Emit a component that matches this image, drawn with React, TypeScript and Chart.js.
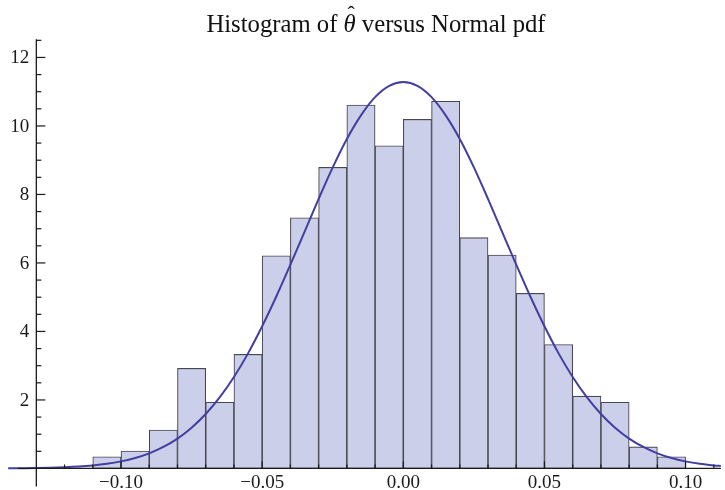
import React, { useEffect, useRef } from "react";
import { Chart, registerables } from "chart.js";

Chart.register(...registerables);

// Histogram bins (width 0.01), centers and densities
const binCenters = [
  -0.105, -0.095, -0.085, -0.075, -0.065, -0.055, -0.045, -0.035, -0.025, -0.015, -0.005,
  0.005, 0.015, 0.025, 0.035, 0.045, 0.055, 0.065, 0.075, 0.085, 0.095,
];
const binDensities = [
  0.34, 0.51, 1.12, 2.92, 1.93, 3.33, 6.21, 7.32, 8.79, 10.61, 9.42,
  10.19, 10.72, 6.74, 6.23, 5.11, 3.62, 2.11, 1.93, 0.63, 0.34,
];

// Normal pdf curve
const pdfX = [
  -0.14, -0.135, -0.13, -0.125, -0.12, -0.115, -0.11, -0.105, -0.1, -0.095, -0.09, -0.085,
  -0.08, -0.075, -0.07, -0.065, -0.06, -0.055, -0.05, -0.045, -0.04, -0.035, -0.03, -0.025,
  -0.02, -0.015, -0.01, -0.005, 0, 0.005, 0.01, 0.015, 0.02, 0.025, 0.03, 0.035, 0.04,
  0.045, 0.05, 0.055, 0.06, 0.065, 0.07, 0.075, 0.08, 0.085, 0.09, 0.095, 0.1, 0.105, 0.11,
  0.1125,
];
const pdfY = [
  0.004, 0.008, 0.013, 0.022, 0.036, 0.057, 0.089, 0.137, 0.207, 0.305, 0.442, 0.627,
  0.872, 1.19, 1.59, 2.08, 2.67, 3.36, 4.15, 5.02, 5.95, 6.91, 7.87, 8.79,
  9.62, 10.31, 10.84, 11.17, 11.28, 11.17, 10.84, 10.31, 9.62, 8.79, 7.87, 6.91, 5.95,
  5.02, 4.15, 3.36, 2.67, 2.08, 1.59, 1.19, 0.872, 0.627, 0.442, 0.305, 0.207, 0.137, 0.089,
  0.071,
];

// Axis ticks
const xMajorTicks = [-0.1, -0.05, 0, 0.05, 0.1];
const xTickLabels = ["\u22120.10", "\u22120.05", "0.00", "0.05", "0.10"];
const xMinorTicks = [
  -0.12, -0.11, -0.09, -0.08, -0.07, -0.06, -0.04, -0.03, -0.02, -0.01,
  0.01, 0.02, 0.03, 0.04, 0.06, 0.07, 0.08, 0.09, 0.11,
];
const yMajorTicks = [2, 4, 6, 8, 10, 12];
const yTickLabels = ["2", "4", "6", "8", "10", "12"];
const yMinorTicks = [0.5, 1, 1.5, 2.5, 3, 3.5, 4.5, 5, 5.5, 6.5, 7, 7.5, 8.5, 9, 9.5, 10.5, 11, 11.5, 12.5];

const titleBefore = "Histogram of ";
const titleSymbol = "\u03B8";
const titleHat = "\u02C6";
const titleAfter = " versus Normal pdf";

const X_MIN = -0.14;
const X_MAX = 0.1125;
const Y_MIN = -0.53;
const Y_MAX = 12.53;
const Y_AXIS_AT = -0.13;
const X_AXIS_AT = 0;
const X_AXIS_START = -0.1365;

const SERIF = "'Liberation Serif', 'DejaVu Serif', serif";

const axesPlugin = {
  id: "mathAxes",
  afterDraw(chart: any) {
    const ctx = chart.ctx as CanvasRenderingContext2D;
    const xs = chart.scales.x;
    const ys = chart.scales.y;
    const area = chart.chartArea;
    const ax = xs.getPixelForValue(Y_AXIS_AT);
    const ay = ys.getPixelForValue(X_AXIS_AT);
    ctx.save();
    ctx.strokeStyle = "#1a1a1a";
    ctx.lineWidth = 1.3;
    // x axis
    ctx.beginPath();
    ctx.moveTo(xs.getPixelForValue(X_AXIS_START), ay);
    ctx.lineTo(area.right, ay);
    ctx.stroke();
    // y axis
    ctx.beginPath();
    ctx.moveTo(ax, area.top);
    ctx.lineTo(ax, area.bottom);
    ctx.stroke();
    // x ticks (upward)
    ctx.lineWidth = 1.2;
    xMajorTicks.forEach((v) => {
      const p = xs.getPixelForValue(v);
      ctx.beginPath();
      ctx.moveTo(p, ay);
      ctx.lineTo(p, ay - 7);
      ctx.stroke();
    });
    xMinorTicks.forEach((v) => {
      const p = xs.getPixelForValue(v);
      ctx.beginPath();
      ctx.moveTo(p, ay);
      ctx.lineTo(p, ay - 4);
      ctx.stroke();
    });
    // y ticks (rightward)
    yMajorTicks.forEach((v) => {
      const p = ys.getPixelForValue(v);
      ctx.beginPath();
      ctx.moveTo(ax, p);
      ctx.lineTo(ax + 9, p);
      ctx.stroke();
    });
    yMinorTicks.forEach((v) => {
      const p = ys.getPixelForValue(v);
      ctx.beginPath();
      ctx.moveTo(ax, p);
      ctx.lineTo(ax + 5, p);
      ctx.stroke();
    });
    // tick labels
    ctx.fillStyle = "#1a1a1a";
    ctx.font = `19px ${SERIF}`;
    ctx.textAlign = "center";
    ctx.textBaseline = "alphabetic";
    xMajorTicks.forEach((v, i) => {
      ctx.fillText(xTickLabels[i], xs.getPixelForValue(v), 488);
    });
    ctx.textAlign = "right";
    ctx.textBaseline = "middle";
    yMajorTicks.forEach((v, i) => {
      ctx.fillText(yTickLabels[i], ax - 7, ys.getPixelForValue(v) + 1);
    });
    // title
    ctx.fillStyle = "#111";
    ctx.textBaseline = "alphabetic";
    ctx.textAlign = "left";
    const normalFont = `24.7px ${SERIF}`;
    const italicFont = `italic 24.7px ${SERIF}`;
    ctx.font = normalFont;
    const w1 = ctx.measureText(titleBefore).width;
    const w3 = ctx.measureText(titleAfter).width;
    ctx.font = italicFont;
    const w2 = ctx.measureText(titleSymbol).width;
    const total = w1 + w2 + w3;
    let x = 376 - total / 2;
    const by = 32;
    ctx.font = normalFont;
    ctx.fillText(titleBefore, x, by);
    x += w1;
    ctx.font = italicFont;
    ctx.fillText(titleSymbol, x, by);
    ctx.font = `22px ${SERIF}`;
    ctx.textAlign = "center";
    ctx.fillText(titleHat, x + w2 * 0.62, by - 11);
    ctx.textAlign = "left";
    x += w2;
    ctx.font = normalFont;
    ctx.fillText(titleAfter, x, by);
    ctx.restore();
  },
};

export default function App() {
  const ref = useRef<HTMLCanvasElement | null>(null);
  useEffect(() => {
    if (!ref.current) return;
    const chart = new Chart(ref.current, {
      type: "bar",
      data: {
        datasets: [
          {
            type: "line",
            data: pdfX.map((x, i) => ({ x, y: pdfY[i] })),
            borderColor: "rgb(66,62,162)",
            borderWidth: 2,
            pointRadius: 0,
            cubicInterpolationMode: "monotone",
            fill: false,
            order: 0,
          } as any,
          {
            type: "bar",
            data: binCenters.map((x, i) => ({ x, y: binDensities[i] })),
            backgroundColor: "rgb(204,207,233)",
            borderColor: "rgb(72,72,82)",
            borderWidth: 1.1,
            borderSkipped: false,
            barPercentage: 1,
            categoryPercentage: 1,
            order: 1,
          } as any,
        ],
      },
      options: {
        animation: false,
        responsive: false,
        maintainAspectRatio: false,
        layout: { padding: { left: 8.1, right: 4.1, top: 39.3, bottom: 3.4 } },
        plugins: {
          legend: { display: false },
          title: { display: false },
          tooltip: { enabled: false },
        },
        scales: {
          x: { type: "linear", min: X_MIN, max: X_MAX, offset: false, display: false },
          y: { type: "linear", min: Y_MIN, max: Y_MAX, display: false },
        },
      },
      plugins: [axesPlugin],
    });
    return () => chart.destroy();
  }, []);
  return (
    <div style={{ position: "absolute", left: 0, top: 0, width: 725, height: 490, background: "#fff" }}>
      <canvas ref={ref} width={725} height={490} style={{ width: 725, height: 490, display: "block" }} />
    </div>
  );
}
